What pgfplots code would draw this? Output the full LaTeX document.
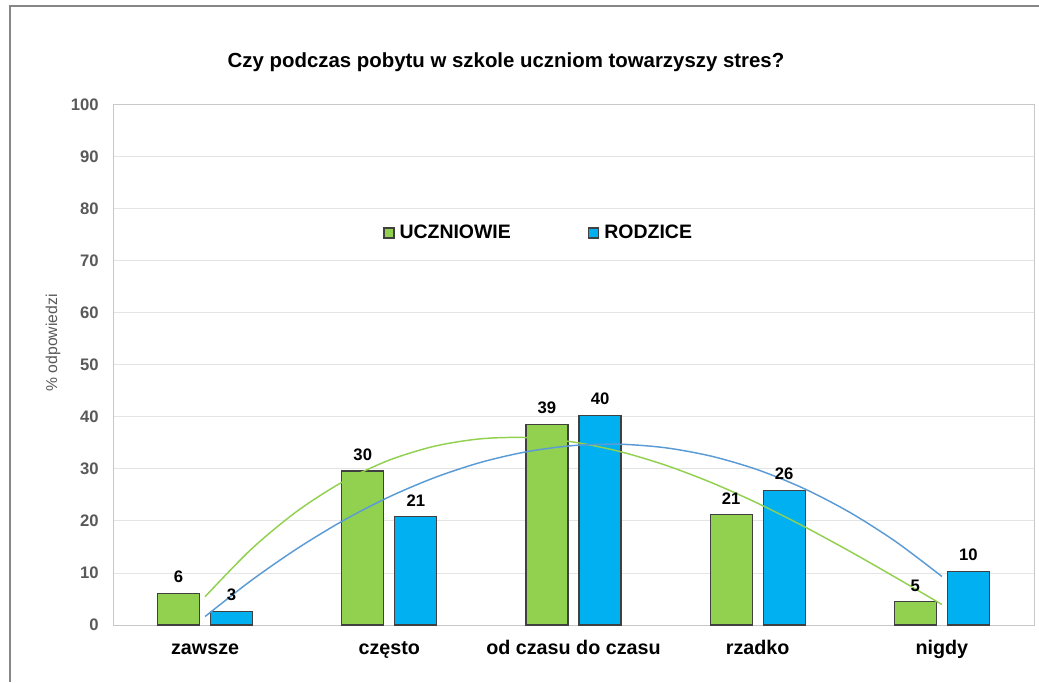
\documentclass[border=0pt]{standalone}
\usepackage{pgfplots}
\usepackage{pgfplotstable}
\pgfplotsset{compat=1.18}
\usepackage{fontspec}
\setmainfont{Liberation Sans}

\definecolor{uczGreen}{RGB}{146,208,80}
\definecolor{rodBlue}{RGB}{0,176,240}
\definecolor{trendBlue}{RGB}{91,155,213}
\definecolor{barEdge}{RGB}{64,64,64}
\definecolor{tickGray}{RGB}{89,89,89}
\definecolor{gridGray}{RGB}{228,228,228}
\definecolor{boxGray}{RGB}{200,200,200}
\definecolor{frameGray}{RGB}{134,134,134}

% bars (label = value shown above the bar)
\pgfplotstableread{
x y lab
0 6.1 6
1 29.6 30
2 38.6 39
3 21.2 21
4 4.5 5
}\uczniowie
\pgfplotstableread{
x y lab
0 2.6 3
1 20.8 21
2 40.3 40
3 25.9 26
4 10.3 10
}\rodzice

% trend lines
\pgfplotstableread{
x y
0 5.45
0.25 14.56
0.5 21.90
0.75 27.58
1 31.71
1.25 34.42
1.5 35.82
1.75 36.04
2 35.18
2.25 33.37
2.5 30.73
2.75 27.37
3 23.41
3.25 18.97
3.5 14.17
3.75 9.12
4 3.94
}\trendU
\pgfplotstableread{
x y
0 1.63
0.25 8.55
0.5 14.70
0.75 20.08
1 24.65
1.25 28.40
1.5 31.31
1.75 33.35
2 34.51
2.25 34.76
2.5 34.08
2.75 32.45
3 29.85
3.25 26.26
3.5 21.66
3.75 16.02
4 9.33
}\trendR

\begin{document}
\begin{tikzpicture}
\useasboundingbox (0,0) rectangle (779.25pt,511.5pt);
\draw[frameGray, line width=0.9pt] (7.5pt,0pt) -- (7.5pt,507pt) -- (779.25pt,507pt);
\node[font=\fontsize{15.3}{18}\selectfont\bfseries] at (379.5pt,465pt)
  {Czy podczas pobytu w szkole uczniom towarzyszy stres?};
\node[rotate=90, font=\fontsize{11.8}{14}\selectfont, text=tickGray] at (39.75pt,254.25pt)
  {\% odpowiedzi};
\begin{axis}[
  scale only axis,
  width=690.75pt, height=390pt,
  at={(84.75pt,42.75pt)}, anchor=south west,
  xmin=-0.5, xmax=4.5, ymin=0, ymax=100,
  xtick={0,1,2,3,4},
  xticklabels={zawsze,często,od czasu do czasu,rzadko,nigdy},
  ytick={0,10,...,100},
  major tick length=0pt,
  ymajorgrids,
  grid style={draw=gridGray, line width=0.75pt},
  axis line style={draw=boxGray, line width=0.75pt},
  /pgf/number format/assume math mode=true,
  yticklabel style={font=\fontsize{12.5}{15}\selectfont\bfseries, text=tickGray,
    inner sep=0pt, xshift=-10.5pt},
  xticklabel style={font=\fontsize{14.8}{17}\selectfont\bfseries, text=black,
    anchor=base, inner sep=0pt, yshift=-21.75pt},
  legend columns=2,
  legend style={at={(axis cs:0.966,75.4)}, anchor=west, draw=none, fill=none,
    font=\fontsize{14.6}{17}\selectfont\bfseries, inner sep=0pt,
    nodes={inner sep=0pt},
    /tikz/every even column/.append style={column sep=58pt}},
  every node near coord/.append style={font=\fontsize{12.5}{15}\selectfont\bfseries,
    text=black, anchor=base, inner sep=0pt, yshift=7.9pt},
]
\addplot[ybar, bar width=31.5pt, bar shift=-19.9pt, fill=uczGreen, draw=barEdge,
  line width=0.9pt, nodes near coords, point meta=explicit symbolic,
  every node near coord/.append style={xshift=-19.9pt},
  legend image code/.code={\draw[fill=uczGreen, draw=barEdge, line width=0.9pt]
    (0pt,-3.75pt) rectangle (7.5pt,3.75pt); \path (11.25pt,0pt);}]
  table[x=x, y=y, meta=lab] {\uczniowie};
\addlegendentry{UCZNIOWIE}
\addplot[ybar, bar width=31.5pt, bar shift=19.9pt, fill=rodBlue, draw=barEdge,
  line width=0.9pt, nodes near coords, point meta=explicit symbolic,
  every node near coord/.append style={xshift=19.9pt},
  legend image code/.code={\draw[fill=rodBlue, draw=barEdge, line width=0.9pt]
    (0pt,-3.75pt) rectangle (7.5pt,3.75pt); \path (11.25pt,0pt);}]
  table[x=x, y=y, meta=lab] {\rodzice};
\addlegendentry{RODZICE}
\addplot[forget plot, smooth, uczGreen, line width=1.1pt] table[x=x, y=y] {\trendU};
\addplot[forget plot, smooth, trendBlue, line width=1.1pt] table[x=x, y=y] {\trendR};
\end{axis}
\end{tikzpicture}
\end{document}
